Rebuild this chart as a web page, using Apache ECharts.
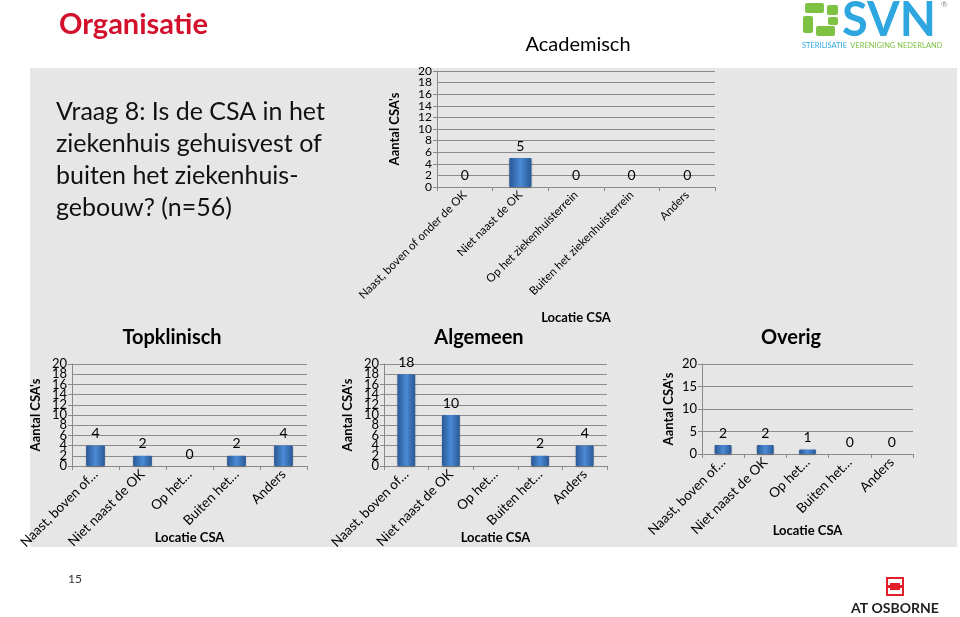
<!DOCTYPE html>
<html>
<head>
<meta charset="utf-8">
<script src="https://cdn.jsdelivr.net/npm/echarts@6/dist/echarts.min.js"></script>
<style>
html,body{margin:0;padding:0;background:#fff;}
#c{width:960px;height:617px;}
</style>
</head>
<body>
<div id="c"></div>
<script>
// ---- data ----
var categoriesFull = ['Naast, boven of onder de OK', 'Niet naast de OK', 'Op het ziekenhuisterrein', 'Buiten het ziekenhuisterrein', 'Anders'];
var categoriesShort = ['Naast, boven of…', 'Niet naast de OK', 'Op het…', 'Buiten het…', 'Anders'];
var academisch = [0, 5, 0, 0, 0];
var topklinisch = [4, 2, 0, 2, 4];
var algemeen = [18, 10, null, 2, 4];
var overig = [2, 2, 1, 0, 0];
var chartTitles = ['Academisch', 'Topklinisch', 'Algemeen', 'Overig'];
var yName = "Aantal CSA's";
var xName = 'Locatie CSA';

var FONT = 'Lato, "Liberation Sans", sans-serif';
var chart = echarts.init(document.getElementById('c'), null, {renderer: 'canvas'});

var barColor = new echarts.graphic.LinearGradient(0, 0, 1, 0, [
  {offset: 0, color: '#2a5894'},
  {offset: 0.5, color: '#4a8ad6'},
  {offset: 1, color: '#2a5894'}
]);

var grids = [
  {left: 437, top: 71, width: 278, height: 116},
  {left: 72, top: 364, width: 235, height: 102},
  {left: 384, top: 364, width: 223, height: 102},
  {left: 702, top: 364, width: 211, height: 90}
];
var yNameGaps = [36, 30, 30, 27];
var xNameGaps = [124, 65, 65, 70];
var intervals = [2, 2, 2, 5];
var yLabelSizes = [12, 13, 13, 13];
var xLabelSizes = [11.5, 13.5, 13.5, 13.5];
var labelsets = [categoriesFull, categoriesShort, categoriesShort, categoriesShort];
var datasets = [academisch, topklinisch, algemeen, overig];
var Y_MIN = 0, Y_MAX = 20;

var xAxes = [], yAxes = [], series = [];
for (var i = 0; i < 4; i++) {
  xAxes.push({
    type: 'category', gridIndex: i, data: labelsets[i],
    name: xName, nameLocation: 'middle', nameGap: xNameGaps[i], nameMoveOverlap: false,
    nameTextStyle: {fontFamily: FONT, fontSize: 13, fontWeight: 'bold', color: '#000'},
    axisLine: {lineStyle: {color: '#8a8a8a'}},
    axisTick: {show: true, length: 4, lineStyle: {color: '#8a8a8a'}},
    axisLabel: {interval: 0, rotate: 45, fontFamily: FONT, fontSize: xLabelSizes[i], color: '#000', margin: 6, hideOverlap: false}
  });
  yAxes.push({
    type: 'value', gridIndex: i, position: 'left', min: Y_MIN, max: Y_MAX, interval: intervals[i],
    name: yName, nameLocation: 'middle', nameGap: yNameGaps[i], nameMoveOverlap: false,
    nameTextStyle: {fontFamily: FONT, fontSize: 13, fontWeight: 'bold', color: '#000'},
    axisLine: {show: true, lineStyle: {color: '#8a8a8a'}},
    axisTick: {show: true, length: 4, lineStyle: {color: '#8a8a8a'}},
    splitLine: {lineStyle: {color: '#8c8c8c', width: 1}},
    axisLabel: {fontFamily: FONT, fontSize: yLabelSizes[i], color: '#000', margin: 5, showMinLabel: true, showMaxLabel: true, hideOverlap: false}
  });
  series.push({
    type: 'bar', xAxisIndex: i, yAxisIndex: i, data: datasets[i],
    barWidth: '40%',
    itemStyle: {color: barColor, borderWidth: 0, borderRadius: 1,
      shadowColor: 'rgba(0,0,0,0.25)', shadowBlur: 2, shadowOffsetY: 1},
    label: {show: true, position: 'top', distance: 5, fontFamily: FONT, fontSize: 14, color: '#000'}
  });
}
// companion label-only axes for the densely ticked charts, so the ticks next to 0 and 20 keep their labels
for (var j = 0; j < 3; j++) {
  (function (k) {
    yAxes.push({
      type: 'value', gridIndex: k, position: 'left', offset: 0, min: Y_MIN, max: Y_MAX, interval: intervals[k],
      axisLine: {show: false}, axisTick: {show: false}, splitLine: {show: false},
      axisLabel: {
        fontFamily: FONT, fontSize: yLabelSizes[k], color: '#000', margin: 5,
        showMinLabel: false, showMaxLabel: false, hideOverlap: false,
        formatter: function (v) {
          return (v === Y_MIN + intervals[k] || v === Y_MAX - intervals[k]) ? String(v) : '';
        }
      }
    });
  })(j);
}

var titles = [
  {text: chartTitles[0], left: 573, top: 30, textAlign: 'center', textStyle: {fontFamily: FONT, fontSize: 20, fontWeight: 'normal', color: '#000'}},
  {text: chartTitles[1], left: 167, top: 323, textAlign: 'center', textStyle: {fontFamily: FONT, fontSize: 20, fontWeight: 'bold', color: '#000'}},
  {text: chartTitles[2], left: 474, top: 323, textAlign: 'center', textStyle: {fontFamily: FONT, fontSize: 20, fontWeight: 'bold', color: '#000'}},
  {text: chartTitles[3], left: 786, top: 323, textAlign: 'center', textStyle: {fontFamily: FONT, fontSize: 20, fontWeight: 'bold', color: '#000'}}
];

var green = '#7dc242', blue = '#2ea7e0';
var graphics = [
  // grey panel
  {type: 'rect', z: -10, shape: {x: 30, y: 68, width: 927, height: 479}, style: {fill: '#e6e6e6'}},
  // slide title
  {type: 'text', x: 59, y: 10, style: {text: 'Organisatie', font: 'bold 29px ' + FONT, fill: '#d3112d'}},
  // question
  {type: 'text', x: 56, y: 96, style: {text: 'Vraag 8: Is de CSA in het\nziekenhuis gehuisvest of\nbuiten het ziekenhuis-\ngebouw? (n=56)', font: '25px ' + FONT, fill: '#111', lineHeight: 32}},
  // page number
  {type: 'text', x: 68, y: 573, style: {text: '15', font: '12px ' + FONT, fill: '#333'}},
  // SVN logo icon
  {type: 'rect', shape: {x: 805, y: 3, width: 19, height: 10, r: 2}, style: {fill: green}},
  {type: 'rect', shape: {x: 827, y: 5, width: 11, height: 10, r: 2}, style: {fill: green}},
  {type: 'rect', shape: {x: 803, y: 16, width: 10, height: 17, r: 2}, style: {fill: green}},
  {type: 'rect', shape: {x: 816, y: 26, width: 19, height: 10, r: 2}, style: {fill: green}},
  {type: 'rect', shape: {x: 828, y: 17, width: 10, height: 8, r: 2}, style: {fill: green}},
  {type: 'text', x: 842, y: -3, style: {text: 'SVN', font: 'bold 47px ' + FONT, fill: blue}},
  {type: 'text', x: 941, y: 0, style: {text: '®', font: '8px ' + FONT, fill: '#888'}},
  {type: 'text', x: 802, y: 40, style: {rich: {a: {fill: blue, font: '7.5px ' + FONT}, b: {fill: green, font: '7.5px ' + FONT}}, text: '{a|STERILISATIE} {b|VERENIGING NEDERLAND}'}},
  // AT OSBORNE logo
  {type: 'rect', shape: {x: 887, y: 578, width: 16, height: 17}, style: {fill: 'none', stroke: '#e3202a', lineWidth: 2}},
  {type: 'rect', shape: {x: 890, y: 583, width: 10, height: 7}, style: {fill: '#e3202a'}},
  {type: 'rect', shape: {x: 886, y: 585, width: 18, height: 3}, style: {fill: '#e3202a'}},
  {type: 'text', x: 851, y: 601, style: {text: 'AT OSBORNE', font: 'bold 14px ' + FONT, fill: '#222'}}
];

chart.setOption({
  animation: false,
  backgroundColor: '#fff',
  title: titles,
  grid: grids,
  xAxis: xAxes,
  yAxis: yAxes,
  series: series,
  graphic: graphics
});
</script>
</body>
</html>
